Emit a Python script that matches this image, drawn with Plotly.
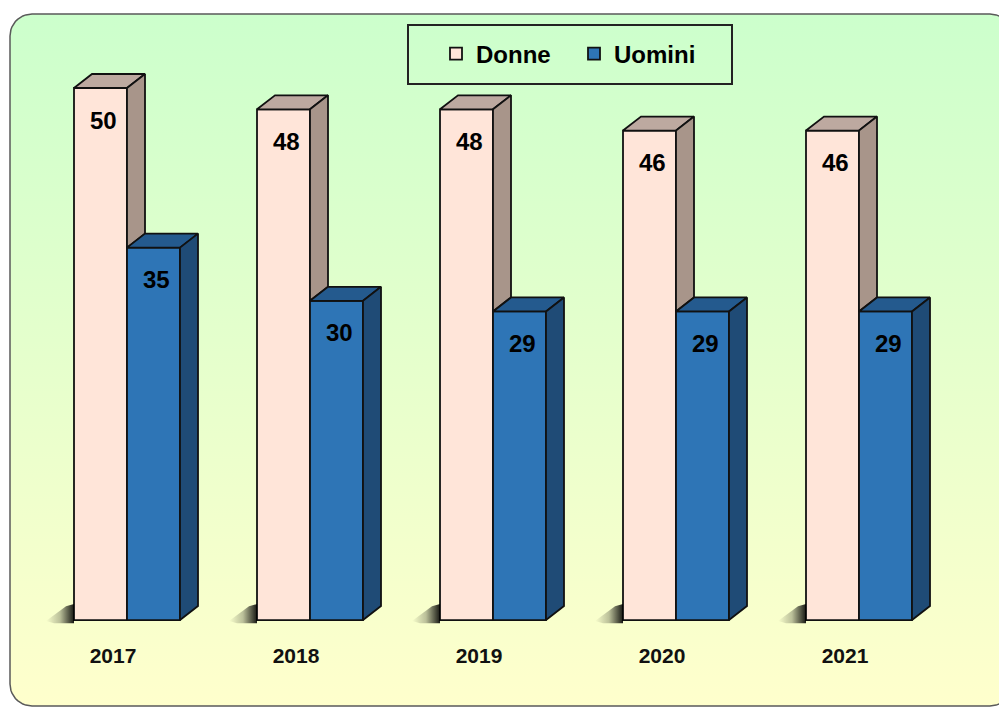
import numpy as np
import plotly.graph_objects as go

# ---------------- data ----------------
years = ["2017", "2018", "2019", "2020", "2021"]
donne = [50, 48, 48, 46, 46]
uomini = [35, 30, 29, 29, 29]

# ---------------- styling ----------------
W, H = 999, 707
PX_X = 183.0          # pixels per category unit
PX_Y = 10.64          # pixels per value unit
BAR_W = 53 / PX_X     # width of each front face (x units)
DX = 18 / PX_X        # depth offset x
DY = 14 / PX_Y        # depth offset y

D_FRONT, D_TOP, D_SIDE = "#FFE5D9", "#BDA9A0", "#A8958A"
U_FRONT, U_TOP, U_SIDE = "#2E75B6", "#245A8E", "#1F4B76"
EDGE = "#111111"
EW = 1.8
FONT = "Liberation Sans, Arial, sans-serif"

fig = go.Figure()

# ---- background rounded rectangle with vertical gradient (pixel axes x/y) ----
L, T, R, B, rad = 10, 14, 1012, 706, 22
pts = []
def arc(cx, cy, a0, a1):
    for a in np.linspace(a0, a1, 12):
        pts.append((cx + rad * np.cos(a), cy + rad * np.sin(a)))
arc(L + rad, T + rad, np.pi, 1.5 * np.pi)
arc(R - rad, T + rad, 1.5 * np.pi, 2 * np.pi)
arc(R - rad, B - rad, 0, 0.5 * np.pi)
arc(L + rad, B - rad, 0.5 * np.pi, np.pi)
pts.append(pts[0])
bx, by = zip(*pts)
fig.add_trace(go.Scatter(
    x=bx, y=by, xaxis="x", yaxis="y", mode="lines", fill="toself",
    line=dict(color="#5a5a5a", width=1.5),
    fillgradient=dict(type="vertical", start=T, stop=B,
                      colorscale=[[0, "#CCFFCC"], [1, "#FFFFCC"]]),
    hoverinfo="skip", showlegend=False))

# ---- front faces (bars) ----
xi = list(range(len(years)))
fig.add_trace(go.Bar(
    x=xi, y=donne, name="Donne", xaxis="x2", yaxis="y2",
    width=BAR_W, offset=-BAR_W,
    marker=dict(color=D_FRONT, line=dict(color=EDGE, width=EW)),
    hoverinfo="skip"))
fig.add_trace(go.Bar(
    x=xi, y=uomini, name="Uomini", xaxis="x2", yaxis="y2",
    width=BAR_W, offset=0,
    marker=dict(color=U_FRONT, line=dict(color=EDGE, width=EW)),
    hoverinfo="skip"))

def face(xs, ys, color):
    fig.add_trace(go.Scatter(
        x=xs + [xs[0]], y=ys + [ys[0]], xaxis="x2", yaxis="y2",
        mode="lines", fill="toself", fillcolor=color,
        line=dict(color=EDGE, width=EW), hoverinfo="skip", showlegend=False))

for i, d, u in zip(xi, donne, uomini):
    x0 = i - BAR_W
    x1 = i
    x2 = i + BAR_W
    # cast shadow at the base
    fig.add_trace(go.Scatter(
        x=[x0 - 28 / PX_X, x0 - 8 / PX_X, x0, x0, x0 - 20 / PX_X, x0 - 28 / PX_X],
        y=[-0.1, 1.3, 1.5, -0.3, -0.3, -0.1], xaxis="x2", yaxis="y2",
        mode="lines", fill="toself", line=dict(width=0),
        fillgradient=dict(type="horizontal",
                          colorscale=[[0, "rgba(0,0,0,0)"], [0.5, "rgba(0,0,0,0.25)"],
                                      [1, "rgba(0,0,0,0.9)"]]),
        hoverinfo="skip", showlegend=False))
    # Donne top and visible side
    face([x0, x1, x1 + DX, x0 + DX], [d, d, d + DY, d + DY], D_TOP)
    face([x1, x1, x1 + DX, x1 + DX], [u, d, d + DY, u + DY], D_SIDE)
    # Uomini top and side
    face([x1, x2, x2 + DX, x1 + DX], [u, u, u + DY, u + DY], U_TOP)
    face([x2, x2 + DX, x2 + DX, x2], [0, DY, u + DY, u], U_SIDE)

# ---- value labels ----
ann = []
for i, d, u in zip(xi, donne, uomini):
    ann.append(dict(x=i - BAR_W / 2, y=d, xref="x2", yref="y2", text=str(d),
                    showarrow=False, yshift=-32, xshift=3,
                    font=dict(family=FONT, size=24, color="black", weight="bold")))
    ann.append(dict(x=i + BAR_W / 2, y=u, xref="x2", yref="y2", text=str(u),
                    showarrow=False, yshift=-32, xshift=3,
                    font=dict(family=FONT, size=24, color="black", weight="bold")))

# legend frame
shapes = [dict(type="rect", xref="paper", yref="paper",
               x0=408 / W, x1=732 / W, y0=1 - 84 / H, y1=1 - 25 / H,
               line=dict(color="#222222", width=2), fillcolor="rgba(0,0,0,0)")]

fig.update_layout(
    width=W, height=H, margin=dict(l=0, r=0, t=0, b=0),
    paper_bgcolor="white", plot_bgcolor="rgba(0,0,0,0)",
    barmode="overlay",
    xaxis=dict(domain=[0, 1], range=[0, W], visible=False, fixedrange=True),
    yaxis=dict(domain=[0, 1], range=[H, 0], visible=False, fixedrange=True),
    xaxis2=dict(domain=[0, 1], anchor="y2", range=[-127 / PX_X, (W - 127) / PX_X],
                tickvals=[i - 14 / PX_X for i in xi], ticktext=years,
                showgrid=False, zeroline=False, showline=False, ticks="",
                ticklabelstandoff=5,
                tickfont=dict(family=FONT, size=21, color="#111111", weight="bold")),
    yaxis2=dict(domain=[(H - 636) / H, 1], anchor="x2", range=[-1.5, 620 / PX_Y],
                visible=False, showgrid=False, zeroline=False),
    showlegend=True,
    legend=dict(orientation="h", x=436 / W, xanchor="left", y=1 - 54 / H,
                yanchor="middle", bgcolor="rgba(0,0,0,0)", borderwidth=0,
                entrywidth=93, entrywidthmode="pixels",
                font=dict(family=FONT, size=24, color="black", weight="bold")),
    annotations=ann, shapes=shapes,
)

fig.write_html("out.html", config={"displayModeBar": False},
               post_script="document.body.style.margin='0';document.body.style.overflow='hidden';")
